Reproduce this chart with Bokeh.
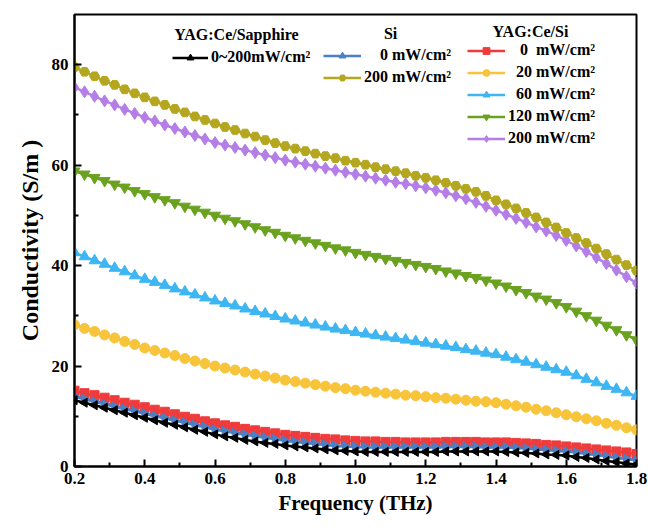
import numpy as np
from bokeh.plotting import figure
from bokeh.models import Legend, LegendItem, Label, FixedTicker, PrintfTickFormatter
from bokeh.embed import file_html
from bokeh.resources import INLINE

# ---------------- data ----------------
freq = np.linspace(0.2, 1.8, 57)  # THz

sapphire_0_200 = [
    13.2, 12.7, 12.2, 11.7, 11.2, 10.7, 10.2,
    9.7, 9.2, 8.7, 8.3, 7.8, 7.3, 6.9,
    6.4, 6.0, 5.7, 5.3, 5.0, 4.7, 4.5,
    4.2, 4.0, 3.8, 3.6, 3.4, 3.2, 3.1,
    3.0, 2.9, 2.9, 2.9, 2.9, 2.9, 2.9,
    2.9, 2.9, 3.0, 3.0, 3.0, 3.0, 3.0,
    3.0, 2.9, 2.8, 2.7, 2.6, 2.4, 2.3,
    2.2, 1.9, 1.7, 1.4, 1.1, 0.9, 0.6,
    0.4]
si_0 = [
    13.9, 13.4, 12.9, 12.4, 11.9, 11.4, 11.0,
    10.5, 10.0, 9.6, 9.1, 8.7, 8.2, 7.8,
    7.3, 7.0, 6.6, 6.3, 6.0, 5.7, 5.4,
    5.1, 4.9, 4.7, 4.5, 4.3, 4.1, 4.0,
    3.9, 3.8, 3.8, 3.8, 3.8, 3.8, 3.8,
    3.8, 3.8, 3.9, 3.9, 3.9, 3.9, 3.8,
    3.8, 3.8, 3.7, 3.6, 3.4, 3.3, 3.1,
    3.0, 2.8, 2.5, 2.3, 2.0, 1.7, 1.5,
    1.2]
si_200 = [
    79.5, 78.6, 77.7, 76.8, 76.0, 75.1, 74.3,
    73.5, 72.7, 72.0, 71.2, 70.5, 69.7, 69.0,
    68.3, 67.6, 67.0, 66.3, 65.7, 65.0, 64.4,
    63.8, 63.3, 62.8, 62.3, 61.8, 61.4, 60.9,
    60.5, 60.1, 59.6, 59.2, 58.8, 58.4, 57.9,
    57.5, 57.0, 56.5, 55.9, 55.3, 54.7, 53.9,
    53.0, 52.2, 51.4, 50.5, 49.6, 48.6, 47.6,
    46.5, 45.5, 44.5, 43.4, 42.3, 41.2, 40.1,
    39.0]
ycs_0 = [
    15.1, 14.6, 14.2, 13.7, 13.2, 12.7, 12.3,
    11.8, 11.3, 10.9, 10.4, 9.9, 9.5, 9.0,
    8.6, 8.2, 7.9, 7.5, 7.2, 6.9, 6.6,
    6.3, 6.1, 5.9, 5.7, 5.5, 5.4, 5.2,
    5.1, 5.0, 5.0, 4.9, 4.9, 4.8, 4.8,
    4.8, 4.8, 4.9, 4.9, 4.9, 4.9, 4.8,
    4.8, 4.8, 4.7, 4.6, 4.5, 4.3, 4.2,
    4.0, 3.8, 3.6, 3.4, 3.2, 3.0, 2.8,
    2.5]
ycs_20 = [
    28.2, 27.5, 26.9, 26.2, 25.6, 24.9, 24.3,
    23.6, 23.1, 22.6, 22.1, 21.5, 21.0, 20.5,
    20.0, 19.6, 19.2, 18.8, 18.4, 18.0, 17.6,
    17.2, 16.9, 16.6, 16.3, 16.0, 15.7, 15.5,
    15.2, 15.0, 14.8, 14.6, 14.4, 14.2, 14.1,
    13.9, 13.7, 13.6, 13.4, 13.2, 13.0, 12.9,
    12.7, 12.4, 12.1, 11.8, 11.4, 11.1, 10.7,
    10.3, 9.9, 9.5, 9.1, 8.6, 8.2, 7.7,
    7.3]
ycs_60 = [
    42.6, 41.8, 41.0, 40.3, 39.5, 38.8, 38.0,
    37.3, 36.7, 36.1, 35.4, 34.8, 34.2, 33.6,
    33.0, 32.5, 32.0, 31.4, 30.9, 30.4, 29.9,
    29.4, 29.0, 28.6, 28.2, 27.8, 27.4, 27.1,
    26.7, 26.4, 26.1, 25.8, 25.5, 25.2, 24.9,
    24.6, 24.3, 24.0, 23.7, 23.3, 23.0, 22.6,
    22.3, 21.8, 21.3, 20.8, 20.3, 19.8, 19.3,
    18.8, 18.1, 17.4, 16.7, 16.0, 15.4, 14.7,
    14.0]
ycs_120 = [
    58.8, 58.2, 57.5, 56.9, 56.2, 55.6, 54.9,
    54.3, 53.7, 53.1, 52.5, 51.8, 51.2, 50.6,
    50.0, 49.4, 48.9, 48.3, 47.7, 47.1, 46.6,
    46.0, 45.5, 45.0, 44.5, 44.0, 43.5, 43.1,
    42.6, 42.2, 41.8, 41.4, 41.0, 40.6, 40.2,
    39.8, 39.4, 38.9, 38.5, 38.0, 37.6, 37.1,
    36.5, 35.9, 35.2, 34.6, 33.9, 33.3, 32.6,
    31.8, 30.9, 30.0, 29.1, 28.1, 27.2, 26.2,
    25.2]
ycs_200 = [
    75.5, 74.6, 73.7, 72.8, 72.0, 71.1, 70.3,
    69.5, 68.8, 68.0, 67.3, 66.6, 65.9, 65.2,
    64.5, 64.0, 63.5, 63.0, 62.5, 62.0, 61.5,
    61.0, 60.6, 60.2, 59.8, 59.4, 59.0, 58.6,
    58.2, 57.8, 57.4, 57.0, 56.6, 56.3, 55.9,
    55.5, 55.0, 54.5, 53.9, 53.3, 52.6, 51.8,
    51.0, 50.2, 49.4, 48.6, 47.7, 46.9, 46.0,
    45.0, 43.9, 42.8, 41.6, 40.4, 39.1, 37.8,
    36.5]

x_ticks = [0.2, 0.4, 0.6, 0.8, 1.0, 1.2, 1.4, 1.6, 1.8]
y_ticks = [0, 20, 40, 60, 80]

FONT = "Liberation Serif"

p = figure(width=648, height=530, x_range=(0.2, 1.8), y_range=(0, 90),
           output_backend="svg", toolbar_location=None,
           min_border_left=74, min_border_right=12, min_border_top=14,
           min_border_bottom=64)
p.grid.visible = False
p.outline_line_color = "black"
p.outline_line_width = 2
p.outline_line_alpha = 1

p.xaxis.ticker = FixedTicker(ticks=x_ticks, minor_ticks=[0.3, 0.5, 0.7, 0.9, 1.1, 1.3, 1.5, 1.7])
p.yaxis.ticker = FixedTicker(ticks=y_ticks, minor_ticks=[10, 30, 50, 70])
p.xaxis.formatter = PrintfTickFormatter(format="%.1f")
for ax in (p.xaxis, p.yaxis):
    ax.axis_line_width = 2
    ax.major_tick_in = 7
    ax.major_tick_out = 0
    ax.minor_tick_in = 4
    ax.minor_tick_out = 0
    ax.major_tick_line_width = 2
    ax.minor_tick_line_width = 2
    ax.major_label_text_font = FONT
    ax.major_label_text_font_style = "bold"
    ax.major_label_text_font_size = "17px"
    ax.major_label_text_color = "black"
    ax.axis_label_text_font = FONT
    ax.axis_label_text_font_style = "bold"
    ax.axis_label_text_color = "black"
p.xaxis.axis_label_text_font_size = "21px"
p.yaxis.axis_label_text_font_size = "24px"
p.xaxis.axis_label = "Frequency (THz)"
p.yaxis.axis_label = "Conductivity (S/m )"
p.xaxis.major_label_standoff = 6
p.yaxis.major_label_standoff = 6
p.xaxis.axis_label_standoff = 4
p.yaxis.axis_label_standoff = 6

def series(y, color, marker, angle=0.0, size=9):
    r_line = p.line(freq, y, line_color=color, line_width=2.5)
    r_pts = p.scatter(freq, y, marker=marker, size=size, fill_color=color,
                      line_color=color, angle=angle)
    return [r_line, r_pts]

r_y200 = series(ycs_200, "#b57ee6", "diamond", size=12)
r_si200 = series(si_200, "#b4a71f", "hex", size=10)
r_y120 = series(ycs_120, "#6aa220", "inverted_triangle", size=11)
r_y60 = series(ycs_60, "#3db6f2", "triangle", size=11)
r_y20 = series(ycs_20, "#f8c43a", "circle", size=10)
r_y0 = series(ycs_0, "#ef3b3b", "square", size=9)
r_si0 = series(si_0, "#4a80c4", "triangle", angle=-np.pi / 2, size=10)
r_sap = series(sapphire_0_200, "black", "triangle", angle=np.pi / 2, size=9)

NB = "\u00a0"

def make_legend(items, loc, gw=38):
    lg = Legend(items=items, location=loc, orientation="vertical",
                glyph_width=gw, glyph_height=17, label_height=17,
                label_standoff=3, spacing=4, padding=0, margin=0,
                border_line_alpha=0, background_fill_alpha=0,
                label_text_font=FONT, label_text_font_style="bold",
                label_text_font_size="16px", label_text_color="black")
    p.add_layout(lg)
    return lg

make_legend([LegendItem(label="0~200mW/cm²", renderers=r_sap)], (98, 400), gw=36)
make_legend([LegendItem(label=NB * 4 + "0 mW/cm²", renderers=r_si0),
             LegendItem(label="200 mW/cm²", renderers=r_si200)], (249, 380))
make_legend([LegendItem(label=NB * 3 + "0" + NB * 2 + "mW/cm²", renderers=r_y0),
             LegendItem(label=NB * 2 + "20 mW/cm²", renderers=r_y20),
             LegendItem(label=NB * 2 + "60 mW/cm²", renderers=r_y60),
             LegendItem(label="120 mW/cm²", renderers=r_y120),
             LegendItem(label="200 mW/cm²", renderers=r_y200)], (393, 319))

for txt, x, y in [("YAG:Ce/Sapphire", 0.661, 86.0), ("Si", 1.100, 86.2), ("YAG:Ce/Si", 1.498, 86.6)]:
    p.add_layout(Label(x=x, y=y, text=txt, text_align="center", text_baseline="middle",
                       text_font=FONT, text_font_style="bold", text_font_size="16px",
                       text_color="black"))

open("out.html", "w").write(file_html(p, INLINE))
